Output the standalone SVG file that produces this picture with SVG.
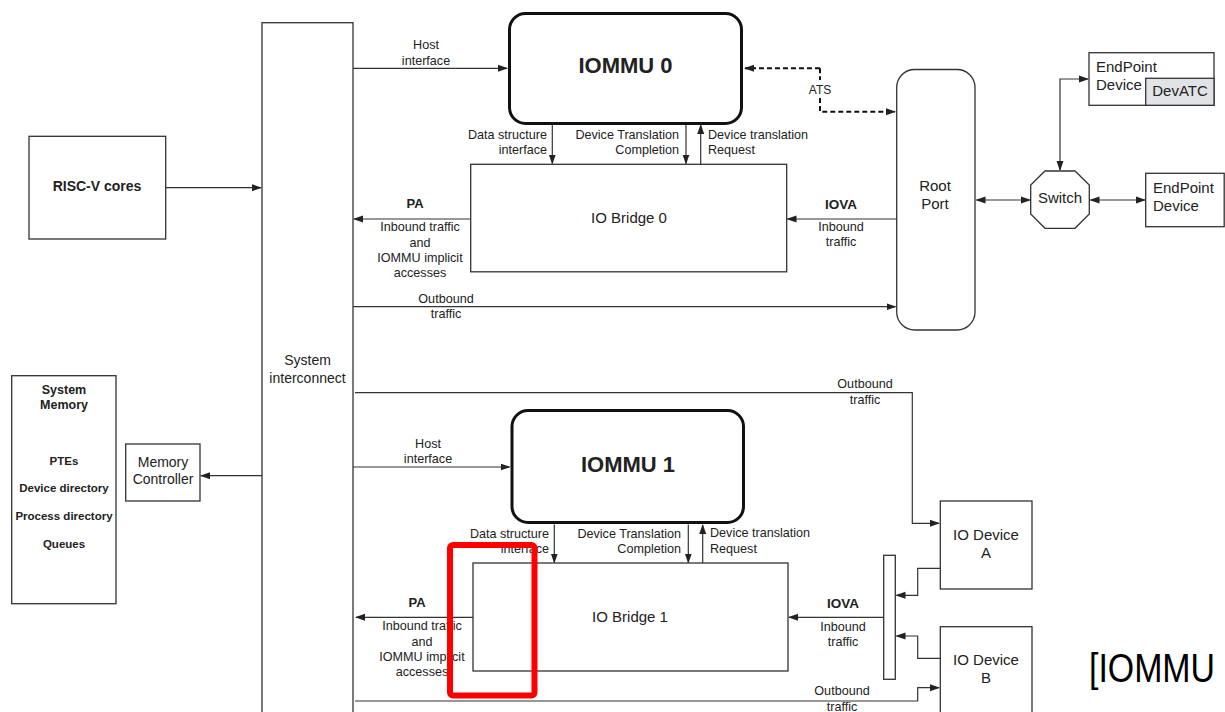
<svg xmlns="http://www.w3.org/2000/svg" width="1225" height="712" viewBox="0 0 1225 712">
<style>
text{font-family:"Liberation Sans",Arial,sans-serif;fill:#222}
.box{fill:#fff;stroke:#333;stroke-width:1.3}
.iommu{fill:#fff;stroke:#111;stroke-width:3}
.lbl{font-size:12.6px}
.c{text-anchor:middle}
.e{text-anchor:end}
.b{font-weight:bold}
.ln{fill:none;stroke:#333;stroke-width:1.2}
.dash{fill:none;stroke:#111;stroke-width:2;stroke-dasharray:5 3}
</style>
<defs>
<marker id="ah" markerWidth="10" markerHeight="8" refX="9" refY="4" orient="auto-start-reverse" markerUnits="userSpaceOnUse">
<path d="M0,0.5 L10,4 L0,7.5 Z" fill="#222"/>
</marker>
</defs>
<rect width="1225" height="712" fill="#fff"/>

<g id="connectors">
<path class="ln" d="M165.7,187.7 H261" marker-end="url(#ah)"/>
<path class="ln" d="M353,68.3 H507" marker-end="url(#ah)"/>
<path class="ln" d="M552.3,124.5 V163.5" marker-end="url(#ah)"/>
<path class="ln" d="M686,124.5 V163.5" marker-end="url(#ah)"/>
<path class="ln" d="M700.7,164.3 V125" marker-end="url(#ah)"/>
<path class="ln" d="M470.7,219 H354" marker-end="url(#ah)"/>
<path class="ln" d="M896.7,219 H787.5" marker-end="url(#ah)"/>
<path class="ln" d="M353,306.7 H895.5" marker-end="url(#ah)"/>
<path class="dash" d="M820,68.3 H745" marker-end="url(#ah)"/>
<path class="dash" d="M820,68.3 V80"/>
<path class="dash" d="M820,98 V111.7 H895" marker-end="url(#ah)"/>
<path class="ln" d="M976.5,200 H1030" marker-start="url(#ah)" marker-end="url(#ah)"/>
<path class="ln" d="M1090.5,200 H1145" marker-start="url(#ah)" marker-end="url(#ah)"/>
<path class="ln" d="M1060,170 V79 H1088" marker-start="url(#ah)" marker-end="url(#ah)"/>
<path class="ln" d="M262,475.7 H201" marker-end="url(#ah)"/>
<path class="ln" d="M355,392.7 H912.3 V523.3 H939" marker-end="url(#ah)"/>
<path class="ln" d="M353,467 H509.5" marker-end="url(#ah)"/>
<path class="ln" d="M554.3,524.5 V562.5" marker-end="url(#ah)"/>
<path class="ln" d="M688.3,524.5 V562.5" marker-end="url(#ah)"/>
<path class="ln" d="M702.7,563 V525" marker-end="url(#ah)"/>
<path class="ln" d="M473,617.3 H356" marker-end="url(#ah)"/>
<path class="ln" d="M883.7,617.3 H789" marker-end="url(#ah)"/>
<path class="ln" d="M940.3,568.3 H917.7 V595.3 H896.5" marker-end="url(#ah)"/>
<path class="ln" d="M940.3,658.3 H917.7 V636 H896.5" marker-end="url(#ah)"/>
<path class="ln" d="M355,701 H917.7 V687.7 H939" marker-end="url(#ah)"/>
</g>

<g id="connector-labels">
<text class="lbl c" x="426" y="49">Host</text>
<text class="lbl c" x="426" y="64.5">interface</text>
<text class="lbl e" x="547" y="138.5">Data structure</text>
<text class="lbl e" x="547" y="154">interface</text>
<text class="lbl e" x="679" y="138.5">Device Translation</text>
<text class="lbl e" x="679" y="154">Completion</text>
<text class="lbl" x="708" y="138.5">Device translation</text>
<text class="lbl" x="708" y="153.5">Request</text>
<text class="b c" style="font-size:13px" x="415" y="208">PA</text>
<text class="lbl c" x="420" y="231">Inbound traffic</text>
<text class="lbl c" x="420" y="246.5">and</text>
<text class="lbl c" x="420" y="262">IOMMU implicit</text>
<text class="lbl c" x="420" y="277">accesses</text>
<text class="b c" style="font-size:13.5px" x="841" y="209">IOVA</text>
<text class="lbl c" x="841" y="231">Inbound</text>
<text class="lbl c" x="841" y="246">traffic</text>
<text class="lbl c" x="446" y="303">Outbound</text>
<text class="lbl c" x="446" y="318">traffic</text>
<text class="c" style="font-size:12px" x="820" y="93.5">ATS</text>
<text class="lbl c" x="865" y="388">Outbound</text>
<text class="lbl c" x="865" y="403.5">traffic</text>
<text class="lbl c" x="428" y="448">Host</text>
<text class="lbl c" x="428" y="463">interface</text>
<text class="lbl e" x="549" y="537.5">Data structure</text>
<text class="lbl e" x="549" y="553">interface</text>
<text class="lbl e" x="681" y="537.5">Device Translation</text>
<text class="lbl e" x="681" y="553">Completion</text>
<text class="lbl" x="710" y="537">Device translation</text>
<text class="lbl" x="710" y="552.5">Request</text>
<text class="b c" style="font-size:13px" x="417" y="607">PA</text>
<text class="lbl c" x="422" y="630">Inbound traffic</text>
<text class="lbl c" x="422" y="645.5">and</text>
<text class="lbl c" x="422" y="661">IOMMU implicit</text>
<text class="lbl c" x="422" y="676">accesses</text>
<text class="b c" style="font-size:13.5px" x="843" y="608">IOVA</text>
<text class="lbl c" x="843" y="630.5">Inbound</text>
<text class="lbl c" x="843" y="646">traffic</text>
<text class="lbl c" x="842" y="695">Outbound</text>
<text class="lbl c" x="842" y="710.5">traffic</text>
</g>

<g id="system-interconnect">
<rect class="box" x="262" y="22.7" width="91" height="700"/>
<text class="c" style="font-size:14px" x="307.5" y="365">System</text>
<text class="c" style="font-size:14px" x="307.5" y="383">interconnect</text>
</g>

<g id="risc-v-cores">
<rect class="box" x="29" y="136.3" width="136.7" height="102.7"/>
<text class="b c" style="font-size:14px" x="97" y="191">RISC-V cores</text>
</g>

<g id="iommu0">
<rect class="iommu" x="509.5" y="13.5" width="232" height="110" rx="16"/>
<text class="b c" style="font-size:22px" x="625.5" y="73">IOMMU 0</text>
</g>

<g id="io-bridge0">
<rect class="box" x="470.7" y="164.3" width="316" height="107.5"/>
<text class="c" style="font-size:15px" x="629" y="222.5">IO Bridge 0</text>
</g>

<g id="root-port">
<rect class="box" x="896.7" y="69.5" width="78.3" height="260.5" rx="18"/>
<text class="c" style="font-size:15px" x="935" y="190.5">Root</text>
<text class="c" style="font-size:15px" x="935" y="208.5">Port</text>
</g>

<g id="switch">
<polygon class="box" points="1045,171 1075,171 1089.3,185 1089.3,214 1075,228.3 1045,228.3 1030.7,214 1030.7,185"/>
<text class="c" style="font-size:15px" x="1060" y="203">Switch</text>
</g>

<g id="endpoint-device1">
<rect class="box" x="1089" y="52.7" width="125" height="52.6"/>
<rect x="1145.7" y="78.3" width="68.3" height="27" fill="#e1e3e7" stroke="#333" stroke-width="1.3"/>
<text style="font-size:15px" x="1096" y="71.5">EndPoint</text>
<text style="font-size:15px" x="1096" y="90">Device</text>
<text class="c" style="font-size:15px" x="1180" y="96">DevATC</text>
</g>

<g id="endpoint-device2">
<rect class="box" x="1145.7" y="173.3" width="78.5" height="53.4"/>
<text style="font-size:15px" x="1153" y="192.5">EndPoint</text>
<text style="font-size:15px" x="1153" y="211">Device</text>
</g>

<g id="system-memory">
<rect class="box" x="11.7" y="375.7" width="104.3" height="228"/>
<text class="b c" style="font-size:12.5px" x="64" y="393.5">System</text>
<text class="b c" style="font-size:12.5px" x="64" y="409">Memory</text>
<text class="b c" style="font-size:11.5px" x="64" y="464.5">PTEs</text>
<text class="b c" style="font-size:11.5px" x="64" y="492">Device directory</text>
<text class="b c" style="font-size:11.5px" x="64" y="520">Process directory</text>
<text class="b c" style="font-size:11.5px" x="64" y="547.5">Queues</text>
</g>

<g id="memory-controller">
<rect class="box" x="125.7" y="444" width="74.3" height="57"/>
<text class="c" style="font-size:14px" x="163" y="467">Memory</text>
<text class="c" style="font-size:14px" x="163" y="484">Controller</text>
</g>

<g id="iommu1">
<rect class="iommu" x="512" y="410.5" width="231.5" height="112" rx="16"/>
<text class="b c" style="font-size:22px" x="628" y="472">IOMMU 1</text>
</g>

<g id="io-bridge1">
<rect class="box" x="473" y="563" width="315" height="108"/>
<text class="c" style="font-size:15px" x="630" y="621.5">IO Bridge 1</text>
</g>

<g id="mux-bar">
<rect class="box" x="883.7" y="555.3" width="11.6" height="124"/>
</g>

<g id="io-device-a">
<rect class="box" x="940.3" y="501" width="91.7" height="88"/>
<text class="c" style="font-size:15px" x="986" y="539.5">IO Device</text>
<text class="c" style="font-size:15px" x="986" y="557.5">A</text>
</g>

<g id="io-device-b">
<rect class="box" x="940.3" y="626.7" width="91.7" height="100"/>
<text class="c" style="font-size:15px" x="986" y="664.5">IO Device</text>
<text class="c" style="font-size:15px" x="986" y="682.5">B</text>
</g>

<g id="highlight">
<rect x="450" y="545" width="84.5" height="150.5" rx="3" fill="none" stroke="#ff0000" stroke-width="6"/>
</g>

<g id="caption">
<text x="1089" y="682" textLength="126" lengthAdjust="spacingAndGlyphs" style="font-size:40px;font-family:'Liberation Sans',sans-serif;fill:#000">[IOMMU</text>
</g>
</svg>
